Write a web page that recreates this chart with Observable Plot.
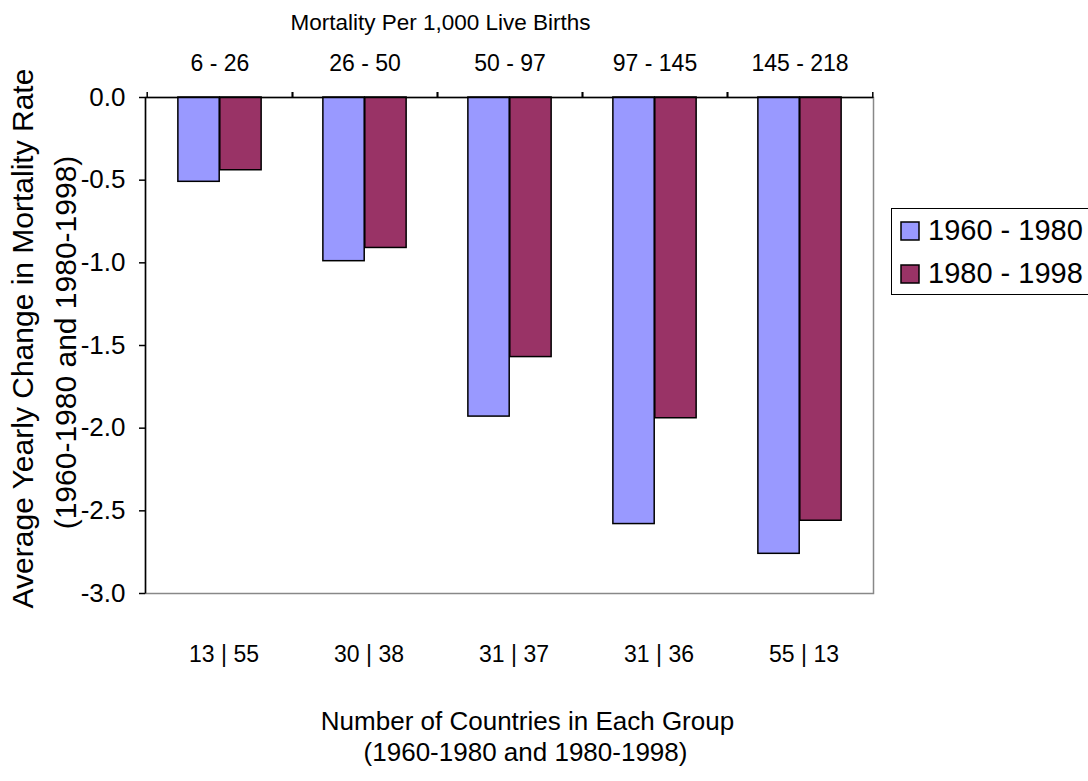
<!DOCTYPE html>
<html>
<head>
<meta charset="utf-8">
<script src="https://cdn.jsdelivr.net/npm/d3@7"></script>
<script src="https://cdn.jsdelivr.net/npm/@observablehq/plot@0.6"></script>
<style>
  html, body { margin: 0; padding: 0; background: #fff; overflow: hidden; }
  #wrap { position: relative; width: 1088px; height: 781px; }
  #legend { position: absolute; left: 891px; top: 208px; width: 230px; height: 87px;
            border: 1px solid #000; box-sizing: border-box; padding: 0 0 0 9px; background:#fff; }
  #legend .lg-swatches { display: flex; flex-direction: column; align-items: flex-start; margin: 0;
            font-family: "Liberation Sans", Arial, sans-serif; font-size: 29px; color: #000; padding-top: 0; min-height: 0; }
  #legend .lg-swatch { display: flex; align-items: center; height: 43px; margin: 0; white-space: nowrap; }
  #legend .lg-swatch > svg { margin-right: 9px; overflow: visible; }
  #legend .lg-swatch > svg rect { stroke: #000; stroke-width: 1.5; }
</style>
</head>
<body>
<div id="wrap"><div id="chart"></div><div id="legend"></div></div>
<script>
const groups = ["6 - 26", "26 - 50", "50 - 97", "97 - 145", "145 - 218"];
const counts = ["13 | 55", "30 | 38", "31 | 37", "31 | 36", "55 | 13"];
const series = ["1960 - 1980", "1980 - 1998"];
const change1960_1980 = [-0.51, -0.99, -1.93, -2.58, -2.76];
const change1980_1998 = [-0.44, -0.91, -1.57, -1.94, -2.56];
const yTicks = [0, -0.5, -1, -1.5, -2, -2.5, -3];
const colors = ["#9999FF", "#993366"];

const W = 1088, H = 781;
const mL = 145, mR = 215, mT = 97, mB = 188;
const bw = (W - mL - mR) / groups.length;
const barW = bw * 0.288;

const rows1 = groups.map((g, i) => ({group: g, value: change1960_1980[i]}));
const rows2 = groups.map((g, i) => ({group: g, value: change1980_1998[i]}));
const countOf = new Map(groups.map((g, i) => [g, counts[i]]));

const font = "'Liberation Sans', Arial, sans-serif";
const fw = W - mL - mR, fh = H - mT - mB;

const chart = Plot.plot({
  width: W, height: H,
  marginLeft: mL, marginRight: mR, marginTop: mT, marginBottom: mB,
  style: {fontFamily: font, color: "#000", background: "#fff", overflow: "visible"},
  x: {type: "band", domain: groups, paddingInner: 0, paddingOuter: 0, axis: null},
  y: {domain: [-3, 0], axis: null},
  marks: [
    Plot.frame({stroke: "#888", strokeWidth: 1.5}),
    Plot.barY(rows1, {x: "group", y: "value", fill: colors[0], stroke: "#000", strokeWidth: 1.5,
      insetLeft: bw / 2 - barW, insetRight: bw / 2}),
    Plot.barY(rows2, {x: "group", y: "value", fill: colors[1], stroke: "#000", strokeWidth: 1.5,
      insetLeft: bw / 2, insetRight: bw / 2 - barW}),
    Plot.frame({stroke: "#000", strokeWidth: 1.5, strokeDasharray: `0,${2 * fw + fh},${fh}`}),
    Plot.ruleY([0], {stroke: "#000", strokeWidth: 1.5}),
    Plot.axisX({anchor: "top", tickSize: 0, tickPadding: 27, fontSize: 23, label: null}),
    Plot.axisX({anchor: "top", tickSize: 6, dx: -bw / 2, tickFormat: () => "", label: null, strokeWidth: 1.5}),
    Plot.axisX({anchor: "top", tickSize: 6, dx: bw / 2, tickFormat: () => "", label: null, strokeWidth: 1.5}),
    Plot.axisX({anchor: "bottom", tickSize: 0, tickPadding: 52, fontSize: 23, label: null, dx: 4,
      tickFormat: d => countOf.get(d)}),
    Plot.axisY({ticks: yTicks, tickFormat: d => d.toFixed(1), tickSize: 6, tickPadding: 14,
      fontSize: 26, label: null, strokeWidth: 1.5}),
    Plot.text(["Mortality Per 1,000 Live Births"], {frameAnchor: "top", lineAnchor: "middle", dy: -75, dx: -69, fontSize: 22.5, fill: "#000"}),
    Plot.text(["Number of Countries in Each Group"], {frameAnchor: "bottom", lineAnchor: "middle", dy: 128, dx: 18, fontSize: 26, fill: "#000"}),
    Plot.text(["(1960-1980 and 1980-1998)"], {frameAnchor: "bottom", lineAnchor: "middle", dy: 159, dx: 16, fontSize: 26, fill: "#000"}),
    Plot.text(["Average Yearly Change in Mortality Rate"], {frameAnchor: "left", lineAnchor: "middle", dx: -122, dy: -7, rotate: -90, textAnchor: "middle", fontSize: 30, fill: "#000"}),
    Plot.text(["(1960-1980 and 1980-1998)"], {frameAnchor: "left", lineAnchor: "middle", dx: -79, dy: -3, rotate: -90, textAnchor: "middle", fontSize: 30, fill: "#000"})
  ]
});
document.getElementById("chart").appendChild(chart);

const legend = Plot.legend({
  color: {type: "ordinal", domain: series, range: colors},
  legend: "swatches", swatchSize: 18, className: "lg"
});
document.getElementById("legend").appendChild(legend);
</script>
</body>
</html>
